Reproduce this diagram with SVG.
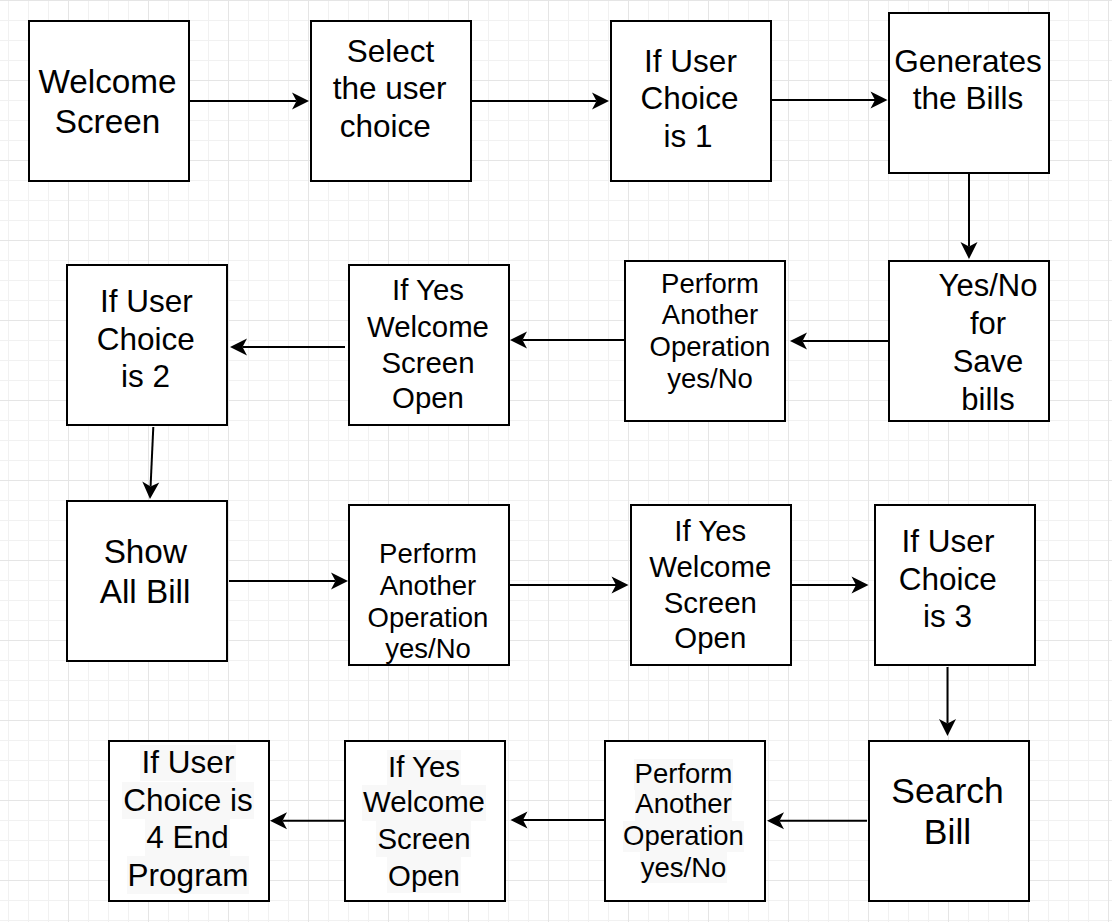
<svg xmlns="http://www.w3.org/2000/svg" width="1112" height="922" viewBox="0 0 1112 922">
<style>
.box{fill:#ffffff;stroke:#000000;stroke-width:2}
.t{font-family:"Liberation Sans",Arial,Helvetica,sans-serif;fill:#000000;text-anchor:middle}
.edge{fill:none;stroke:#000000;stroke-width:2;marker-end:url(#arr)}
.hl{fill:#f8f8f8}
</style>
<defs>
<pattern id="grid" x="-12" y="0" width="80" height="80" patternUnits="userSpaceOnUse">
<rect x="0" y="0" width="80" height="80" fill="#ffffff"/>
<rect x="20" y="0" width="1" height="80" fill="#f1f1f1"/>
<rect x="40" y="0" width="1" height="80" fill="#f1f1f1"/>
<rect x="60" y="0" width="1" height="80" fill="#f1f1f1"/>
<rect x="0" y="20" width="80" height="1" fill="#f1f1f1"/>
<rect x="0" y="40" width="80" height="1" fill="#f1f1f1"/>
<rect x="0" y="60" width="80" height="1" fill="#f1f1f1"/>
<rect x="0" y="0" width="1" height="80" fill="#e5e5e5"/>
<rect x="0" y="0" width="80" height="1" fill="#e5e5e5"/>
</pattern>
<marker id="arr" viewBox="-18 -10 20 20" refX="-12.5" refY="0" markerWidth="20" markerHeight="20" markerUnits="userSpaceOnUse" orient="auto">
<path d="M0,0 L-17,-8.5 L-12.5,0 L-17,8.5 Z" fill="#000000"/>
</marker>
</defs>
<rect x="0" y="0" width="1112" height="922" fill="url(#grid)"/>

<g id="connectors">
<path class="edge" d="M190,101 L296.5,101"/>
<path class="edge" d="M472,101 L596.5,101"/>
<path class="edge" d="M772,100 L875,100"/>
<path class="edge" d="M969,174 L969,246.5"/>
<path class="edge" d="M888,341 L802.5,341"/>
<path class="edge" d="M624,340 L522.5,340"/>
<path class="edge" d="M345,347 L242.5,347"/>
<path class="edge" d="M153.3,427 L150.57,486.5"/>
<path class="edge" d="M229,581 L335.5,581"/>
<path class="edge" d="M510,585 L616,585"/>
<path class="edge" d="M792,585 L856,585"/>
<path class="edge" d="M947.5,667 L947.5,723.5"/>
<path class="edge" d="M867,820.7 L779.5,820.7"/>
<path class="edge" d="M604,820 L523,820"/>
<path class="edge" d="M345,820.7 L282.5,820.7"/>
</g>

<g id="welcome">
<rect class="box" x="29" y="21" width="160" height="160"/>
<text class="t" font-size="33.3"><tspan x="107.5" y="92.7">Welcome</tspan><tspan x="107.5" y="132.7">Screen</tspan></text>
</g>

<g id="select">
<rect class="box" x="311" y="21" width="160" height="160"/>
<text class="t" font-size="31.5"><tspan x="390.5" y="61.7">Select</tspan><tspan x="389.7" y="99">the user</tspan><tspan x="385.2" y="136.7">choice</tspan></text>
</g>

<g id="choice1">
<rect class="box" x="611" y="21" width="160" height="160"/>
<text class="t" font-size="31.5"><tspan x="690.5" y="71.7">If User</tspan><tspan x="689.5" y="109.3">Choice</tspan><tspan x="688" y="147.3">is 1</tspan></text>
</g>

<g id="generates">
<rect class="box" x="889" y="13" width="160" height="160"/>
<text class="t" font-size="31.6"><tspan x="968" y="71.7">Generates</tspan><tspan x="968" y="109.3">the Bills</tspan></text>
</g>

<g id="save">
<rect class="box" x="889" y="261" width="160" height="160"/>
<text class="t" font-size="31"><tspan x="988" y="295.7">Yes/No</tspan><tspan x="988" y="334">for</tspan><tspan x="988" y="372.3">Save</tspan><tspan x="988" y="410">bills</tspan></text>
</g>

<g id="perform1">
<rect class="box" x="625" y="261" width="160" height="160"/>
<text class="t" font-size="27.5"><tspan x="710" y="292.7">Perform</tspan><tspan x="710" y="324">Another</tspan><tspan x="710" y="356">Operation</tspan><tspan x="710" y="387.7">yes/No</tspan></text>
</g>

<g id="yes1">
<rect class="box" x="349" y="265" width="160" height="160"/>
<text class="t" font-size="29.4"><tspan x="428" y="300">If Yes</tspan><tspan x="428" y="337.3">Welcome</tspan><tspan x="428" y="373.3">Screen</tspan><tspan x="428" y="408.3">Open</tspan></text>
</g>

<g id="choice2">
<rect class="box" x="67" y="265" width="160" height="160"/>
<text class="t" font-size="31.5"><tspan x="146.3" y="311.7">If User</tspan><tspan x="145.8" y="350">Choice</tspan><tspan x="145.5" y="386.7">is 2</tspan></text>
</g>

<g id="showall">
<rect class="box" x="67" y="501" width="160" height="160"/>
<text class="t" font-size="33.3"><tspan x="145.3" y="562.7">Show</tspan><tspan x="145" y="603.3">All Bill</tspan></text>
</g>

<g id="perform2">
<rect class="box" x="349" y="505" width="160" height="160"/>
<text class="t" font-size="27.5"><tspan x="428" y="563">Perform</tspan><tspan x="428" y="595">Another</tspan><tspan x="428" y="627">Operation</tspan><tspan x="428" y="658">yes/No</tspan></text>
</g>

<g id="yes2">
<rect class="box" x="631" y="505" width="160" height="160"/>
<text class="t" font-size="29.4"><tspan x="710.3" y="541">If Yes</tspan><tspan x="710.3" y="577.3">Welcome</tspan><tspan x="710.3" y="613.3">Screen</tspan><tspan x="710.3" y="648.3">Open</tspan></text>
</g>

<g id="choice3">
<rect class="box" x="875" y="505" width="160" height="160"/>
<text class="t" font-size="31.5"><tspan x="948" y="551.7">If User</tspan><tspan x="947.8" y="590">Choice</tspan><tspan x="947.5" y="626.7">is 3</tspan></text>
</g>

<g id="search">
<rect class="box" x="869" y="741" width="160" height="160"/>
<text class="t" font-size="35.5"><tspan x="947.5" y="802.7">Search</tspan><tspan x="947.5" y="844">Bill</tspan></text>
</g>

<g id="perform3">
<rect class="box" x="605" y="741" width="160" height="160"/>
<rect class="hl" x="634" y="759" width="99" height="31"/>
<rect class="hl" x="635" y="790" width="97" height="31"/>
<rect class="hl" x="623" y="821" width="121" height="31"/>
<rect class="hl" x="640" y="852" width="87" height="31"/>
<text class="t" font-size="27.5"><tspan x="683.5" y="783.3">Perform</tspan><tspan x="683.5" y="813.3">Another</tspan><tspan x="683.5" y="845">Operation</tspan><tspan x="683.5" y="876.7">yes/No</tspan></text>
</g>

<g id="yes3">
<rect class="box" x="345" y="741" width="160" height="160"/>
<rect class="hl" x="387" y="750" width="74" height="35"/>
<rect class="hl" x="362" y="785" width="124" height="36"/>
<rect class="hl" x="376" y="821" width="95" height="36"/>
<rect class="hl" x="387" y="857" width="74" height="36"/>
<text class="t" font-size="29.4"><tspan x="424" y="776.7">If Yes</tspan><tspan x="424" y="811.7">Welcome</tspan><tspan x="424" y="849.3">Screen</tspan><tspan x="424" y="885.7">Open</tspan></text>
</g>

<g id="choice4">
<rect class="box" x="109" y="741" width="160" height="160"/>
<rect class="hl" x="140" y="745" width="96" height="36"/>
<rect class="hl" x="122" y="782" width="132" height="37"/>
<rect class="hl" x="145" y="819" width="85" height="37"/>
<rect class="hl" x="127" y="856" width="122" height="38"/>
<text class="t" font-size="31.5"><tspan x="188" y="772.7">If User</tspan><tspan x="188" y="810.7">Choice is</tspan><tspan x="187.5" y="848.3">4 End</tspan><tspan x="188" y="886">Program</tspan></text>
</g>
</svg>
